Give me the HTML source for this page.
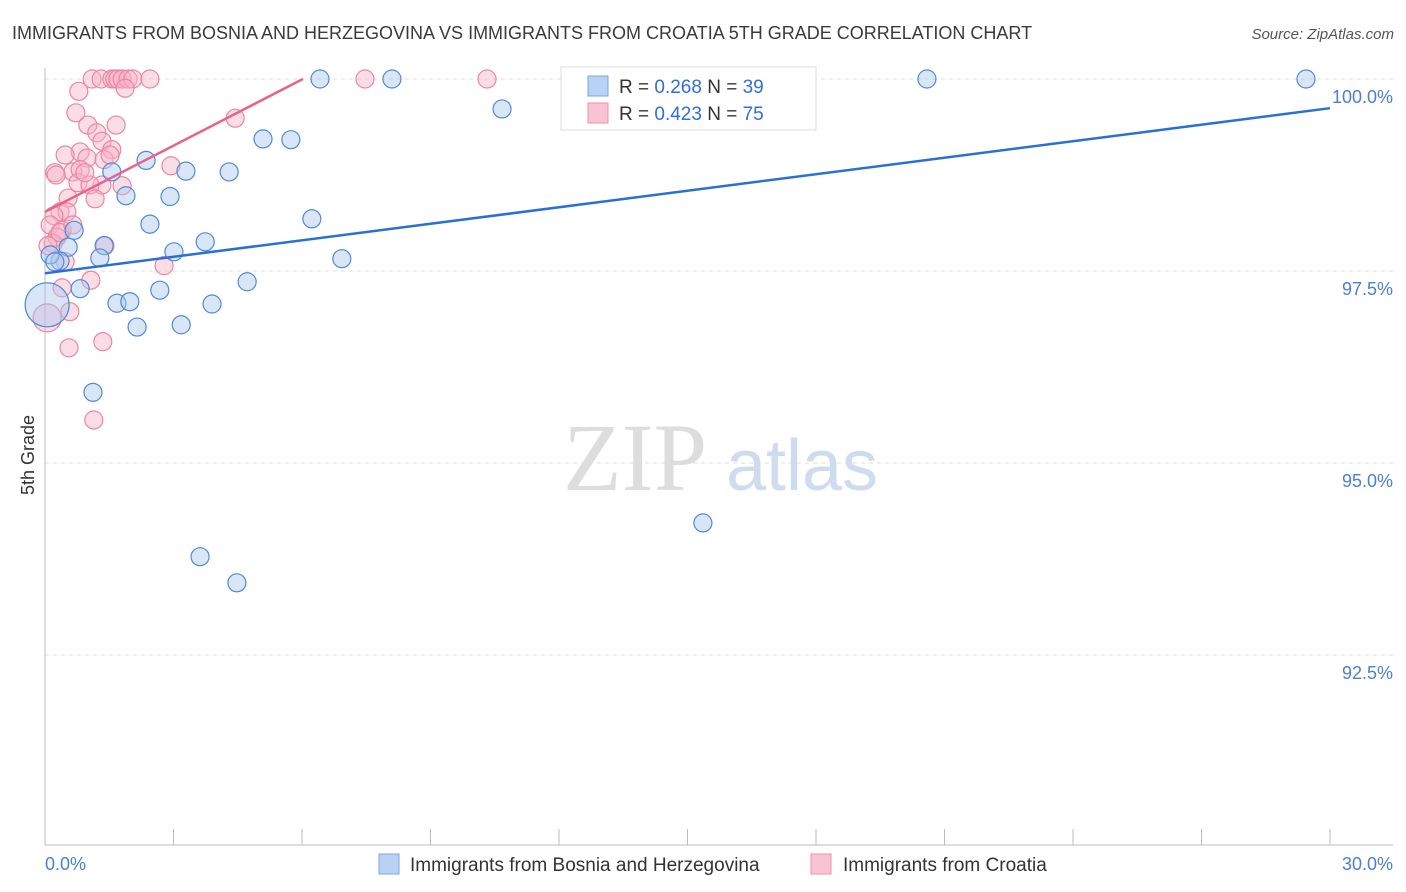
<!DOCTYPE html>
<html><head><meta charset="utf-8"><style>
body{margin:0;background:#fff;font-family:"Liberation Sans",sans-serif;}
#wrap{position:relative;width:1406px;height:892px;overflow:hidden;}
</style></head><body>
<div id="wrap">
<svg id="svg" width="1406" height="892">
<text x="12" y="39" font-size="18" fill="#3a3a3a">IMMIGRANTS FROM BOSNIA AND HERZEGOVINA VS IMMIGRANTS FROM CROATIA 5TH GRADE CORRELATION CHART</text>
<text x="1394" y="39" font-size="15" fill="#555" font-style="italic" text-anchor="end">Source: ZipAtlas.com</text>
<text x="34" y="455" font-size="18" fill="#333" text-anchor="middle" transform="rotate(-90 34 455)">5th Grade</text>
<g><text x="635" y="490" font-size="96" fill="#ddd" font-family="Liberation Serif,serif" text-anchor="middle">ZIP</text><text x="802" y="490" font-size="72" fill="#cfdcf0" text-anchor="middle">atlas</text></g>
<g id="grid"></g><g id="marks"></g>
<g>
<rect x="561" y="67" width="255" height="63" fill="#fff" stroke="#ddd"/>
<rect x="588" y="76" width="20" height="20" fill="#b9d2f3" stroke="#7aa6e0"/>
<text x="619" y="93" font-size="19" fill="#333">R = <tspan fill="#2f6fd6">0.268</tspan>   N = <tspan fill="#2f6fd6">39</tspan></text>
<rect x="588" y="103" width="20" height="20" fill="#f9c3d3" stroke="#ee8fab"/>
<text x="619" y="120" font-size="19" fill="#333">R = <tspan fill="#2f6fd6">0.423</tspan>   N = <tspan fill="#2f6fd6">75</tspan></text>
</g>
<g>
<rect x="379" y="854" width="20" height="20" fill="#b9d2f3" stroke="#7aa6e0"/>
<text x="410" y="871" font-size="19" fill="#333">Immigrants from Bosnia and Herzegovina</text>
<rect x="811" y="854" width="20" height="20" fill="#f9c3d3" stroke="#ee8fab"/>
<text x="843" y="871" font-size="19" fill="#333">Immigrants from Croatia</text>
</g>
</svg></div>
<script>
const yTicks=[100,97.5,95,92.5];
const yTickLabels=["100.0%","97.5%","95.0%","92.5%"];
const xTicks=[0,3,6,9,12,15,18,21,24,27,30];
const blueX=[6.42,8.10,20.59,29.44,10.67,5.09,5.74,2.36,3.29,1.56,4.30,1.89,2.92,6.23,2.45,0.68,3.74,1.38,0.54,3.01,6.93,1.28,0.35,4.72,0.82,2.68,1.68,1.98,3.90,3.18,2.15,0.05,1.12,15.36,3.62,4.48,0.12,0.23];
const blueY=[100,100,100,100,99.61,99.22,99.21,98.94,98.80,98.79,98.79,98.48,98.47,98.18,98.11,98.03,97.88,97.83,97.81,97.75,97.66,97.67,97.63,97.36,97.27,97.25,97.08,97.10,97.07,96.80,96.77,97.06,95.92,94.22,93.78,93.44,97.71,97.62];
const blueBig=[31];
const pinkX=[1.10,1.31,1.56,1.63,1.70,1.80,1.94,2.05,2.45,7.47,10.32,1.87,0.79,0.72,1.00,1.66,1.21,4.44,1.33,0.82,0.47,1.56,0.98,1.38,2.94,1.52,0.23,0.65,0.82,1.33,1.80,0.77,1.05,0.54,1.17,0.35,0.51,0.21,0.12,0.40,0.28,0.19,1.40,0.07,0.47,2.78,1.07,0.40,0.58,1.35,0.56,1.14,0.05,0.35,0.65,0.93,0.26];
const pinkY=[100,100,100,100,100,100,100,100,100,100,100,99.88,99.84,99.56,99.40,99.40,99.30,99.49,99.19,99.05,99.01,99.08,98.97,98.95,98.87,99.01,98.78,98.79,98.82,98.62,98.61,98.65,98.62,98.45,98.44,98.27,98.27,98.22,98.10,98.03,97.94,97.86,97.83,97.83,97.62,97.57,97.38,97.28,96.97,96.58,96.50,95.56,96.89,98.00,98.10,98.78,98.75];
const pinkBig=[52];
const blueTrend=[[0,97.47],[30,99.62]];
const pinkTrend=[[0,98.27],[6.02,100]];
const X=v=>45+v/30*1285, Y=v=>79+(100-v)*76.8;
const NS="http://www.w3.org/2000/svg";
function mk(t,a,p){const e=document.createElementNS(NS,t);for(const k in a)e.setAttribute(k,a[k]);p.appendChild(e);return e;}
const grid=document.getElementById('grid'),marks=document.getElementById('marks');
yTicks.forEach((t,i)=>{
 const l=mk('line',{x1:45,x2:1393,y1:Y(t),y2:Y(t),stroke:'#ddd','stroke-dasharray':'4,4'},grid);
 
 
 const tx=mk('text',{x:1393,y:Y(t)+24,'font-size':18,fill:'#4a7fd4','text-anchor':'end'},grid);
 tx.textContent=yTickLabels[i];
 
 
});
const ax=mk('line',{x1:45,x2:45,y1:68,y2:845,stroke:'#bbb'},grid);


const bx=mk('line',{x1:45,x2:1393,y1:845,y2:845,stroke:'#bbb'},grid);


xTicks.forEach(t=>{
 const l=mk('line',{x1:X(t),x2:X(t),y1:829,y2:845,stroke:'#bbb'},grid);
 
 
});
const xl0=mk('text',{x:45,y:870,'font-size':18,fill:'#4a7fd4'},grid);xl0.textContent='0.0%';


const xl1=mk('text',{x:1393,y:870,'font-size':18,fill:'#4a7fd4','text-anchor':'end'},grid);xl1.textContent='30.0%';


function pts(xs,ys,big,br,fill,stroke,name){
 xs.forEach((x,i)=>{
  const c=mk('circle',{cx:X(x),cy:Y(ys[i]),r:big.includes(i)?br:9,fill:fill,'fill-opacity':0.45,stroke:stroke,'stroke-width':1.2},marks);
  
  
 });
}
pts(pinkX,pinkY,pinkBig,14,'#f7b3c7','#ec85a3','croatia-point');
pts(blueX,blueY,blueBig,22,'#a9c8f0','#4f8ad8','bosnia-point');
const bl=mk('line',{x1:X(blueTrend[0][0]),y1:Y(blueTrend[0][1]),x2:X(blueTrend[1][0]),y2:Y(blueTrend[1][1]),stroke:'#2a6fd6','stroke-width':2.5},marks);


const pl=mk('line',{x1:X(pinkTrend[0][0]),y1:Y(pinkTrend[0][1]),x2:X(pinkTrend[1][0]),y2:Y(pinkTrend[1][1]),stroke:'#e8638a','stroke-width':2.5},marks);


</script>
</body></html>
